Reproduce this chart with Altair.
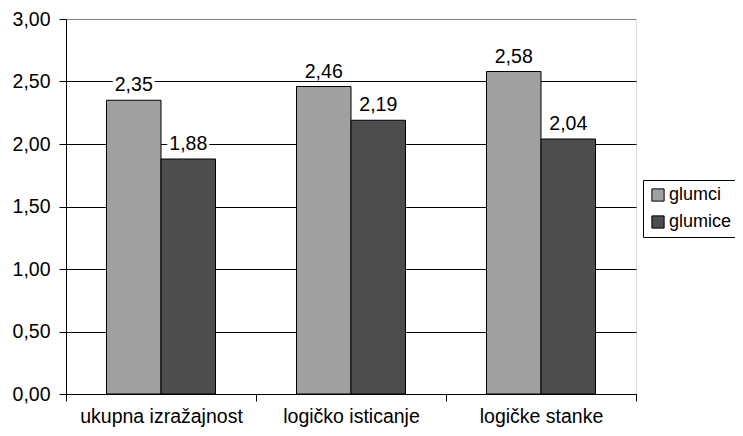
import altair as alt
import pandas as pd

categories = ["ukupna izražajnost", "logičko isticanje", "logičke stanke"]
series = ["glumci", "glumice"]
glumci = [2.35, 2.46, 2.58]
glumice = [1.88, 2.19, 2.04]
colors = ["#a0a0a0", "#4d4d4d"]
y_ticks = [0, 0.5, 1.0, 1.5, 2.0, 2.5, 3.0]

rows = []
for i, c in enumerate(categories):
    rows.append({"cat": c, "ser": series[0], "val": glumci[i]})
    rows.append({"cat": c, "ser": series[1], "val": glumice[i]})
df = pd.DataFrame(rows)

FONT = "Liberation Sans"
FS = 19.5

x_enc = alt.X("cat:N", sort=categories, title=None,
              scale=alt.Scale(paddingInner=0, paddingOuter=0),
              axis=alt.Axis(labelAngle=0, tickBand="extent", tickSize=7,
                            tickColor="black", domainColor="black",
                            labelColor="black", labelFontSize=FS, labelFont=FONT,
                            labelPadding=6, grid=False))
xo_enc = alt.XOffset("ser:N", sort=series,
                     scale=alt.Scale(paddingInner=0, paddingOuter=0.743))
y_enc = alt.Y("val:Q", title=None,
              scale=alt.Scale(domain=[0, 3], nice=False),
              axis=alt.Axis(values=y_ticks, tickSize=7, tickColor="black",
                            domainColor="black", labelColor="black",
                            labelFontSize=FS, labelFont=FONT, labelPadding=9,
                            labelExpr="replace(format(datum.value, '.2f'), '.', ',')",
                            grid=True,
                            gridColor=alt.condition("datum.value == 3",
                                                    alt.value("#808080"),
                                                    alt.value("black"))))

base = alt.Chart(df)

bars = base.mark_bar(stroke="black", strokeWidth=1).encode(
    x=x_enc, xOffset=xo_enc, y=y_enc,
    color=alt.Color("ser:N", sort=series,
                    scale=alt.Scale(domain=series, range=colors),
                    legend=alt.Legend(title=None, orient="none", legendX=577,
                                      legendY=161, padding=6, strokeColor="black",
                                      fillColor="white",
                                      symbolType="square", symbolSize=150,
                                      symbolStrokeColor="black", symbolStrokeWidth=1,
                                      labelFontSize=18, labelFont=FONT,
                                      labelColor="black", rowPadding=9,
                                      labelOffset=2)),
)

label_bg = base.transform_calculate(
    lo="datum.val + 0.05", hi="datum.val + 0.2"
).mark_bar(color="white", width=42).encode(
    x=alt.X("cat:N", sort=categories), xOffset=alt.XOffset("ser:N", sort=series),
    y="lo:Q", y2="hi:Q",
)

labels = base.transform_calculate(
    lab="replace(format(datum.val, '.2f'), '.', ',')"
).mark_text(baseline="alphabetic", dy=-9, fontSize=FS, font=FONT,
            color="black").encode(
    x=alt.X("cat:N", sort=categories), xOffset=alt.XOffset("ser:N", sort=series),
    y="val:Q", text="lab:N",
)

chart = alt.layer(bars, label_bg, labels).properties(
    width=570, height=375,
    autosize=alt.AutoSizeParams(type="none"),
    padding={"left": 58, "top": 11, "right": 99, "bottom": 34},
).configure_view(stroke="#808080", strokeWidth=1).configure(font=FONT)

chart.save("out.html", embed_options={"renderer": "svg", "actions": False})
